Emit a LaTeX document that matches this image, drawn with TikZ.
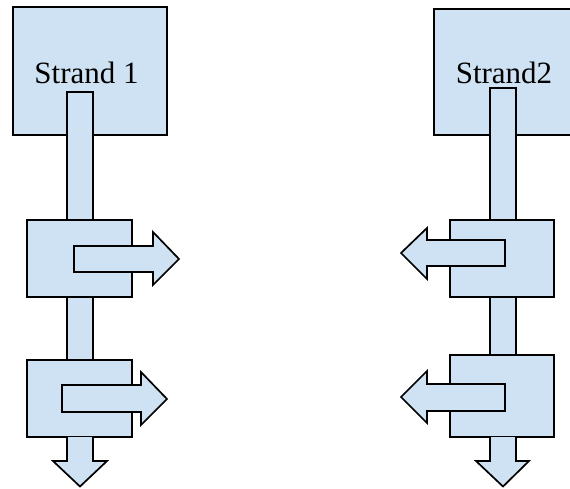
\documentclass[tikz,border=0pt]{standalone}
\usepackage{fontspec}
\setmainfont{Liberation Serif}
\definecolor{boxblue}{HTML}{CFE2F3}
\begin{document}
\begin{tikzpicture}[x=1pt,y=-1pt,
  part/.style={draw=black,fill=boxblue,line width=1.7pt,line join=miter},
  box/.style={part,rectangle,inner sep=0pt,outer sep=0pt},
  lbl/.style={inner sep=0pt,font=\fontsize{31}{31}\selectfont,anchor=base}]
\useasboundingbox (0,0) rectangle (570,488);
\clip (0,0) rectangle (570,488);
% ---- left strand ----
\node[box,minimum width=154pt,minimum height=128pt] (s1) at (90,71) {};
\node[lbl] (t1) at (86.5,83) {Strand 1};
\node[box,minimum width=26pt,minimum height=128pt] (lb1) at (80,156) {};
\node[box,minimum width=105pt,minimum height=77pt] (lk1) at (79.5,258.5) {};
\draw[part] (74,246) -- (153,246) -- (153,232) -- (179,259) -- (153,285) -- (153,272) -- (74,272) -- cycle;
\node[box,minimum width=26pt,minimum height=63pt] (lb2) at (80,328.5) {};
\node[box,minimum width=105pt,minimum height=77pt] (lk2) at (79.5,398.5) {};
\draw[part] (62,385) -- (141,385) -- (141,372) -- (167,399) -- (141,425) -- (141,412) -- (62,412) -- cycle;
\draw[part] (lk2.south -| lb2.west) -- (67,461) -- (53,461) -- (80,486.5) -- (107,461) -- (93,461) -- (lk2.south -| lb2.east);
% ---- right strand ----
\node[box,minimum width=166pt,minimum height=126pt] (s2) at (517,72) {};
\node[lbl] (t2) at (504,83) {Strand2};
\node[box,minimum width=26pt,minimum height=132pt] (rb1) at (503,154) {};
\node[box,minimum width=104pt,minimum height=77pt] (rk1) at (502,258.5) {};
\draw[part] (505,240) -- (427,240) -- (427,228) -- (401,253) -- (427,279) -- (427,266) -- (505,266) -- cycle;
\node[box,minimum width=26pt,minimum height=58pt] (rb2) at (503,326) {};
\node[box,minimum width=104pt,minimum height=82pt] (rk2) at (502,396) {};
\draw[part] (505,384) -- (427,384) -- (427,371) -- (401,397) -- (427,423) -- (427,411) -- (505,411) -- cycle;
\draw[part] (rk2.south -| rb2.west) -- (490,461) -- (476,461) -- (503,486.5) -- (529,461) -- (516,461) -- (rk2.south -| rb2.east);
\end{tikzpicture}
\end{document}
